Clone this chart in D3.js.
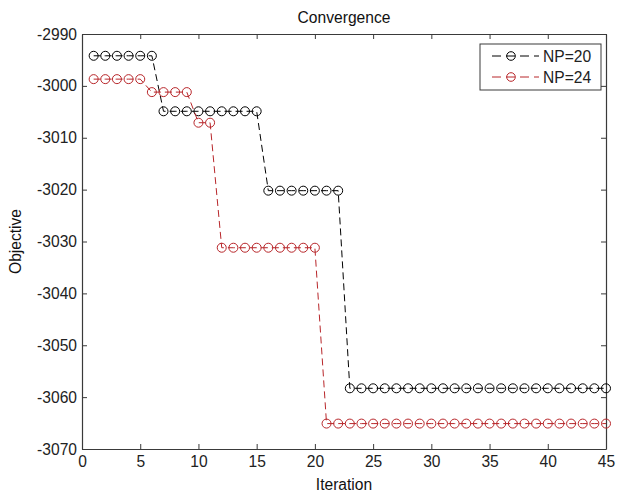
<!DOCTYPE html>
<html>
<head>
<meta charset="utf-8">
<script src="https://cdn.jsdelivr.net/npm/d3@7"></script>
<style>
  html, body { margin: 0; padding: 0; background: #fff; }
  svg { display: block; font-family: "Liberation Sans", Arial, sans-serif; }
</style>
</head>
<body>
<svg id="chart" width="618" height="498"></svg>
<script>
// Best objective value per iteration for two population sizes
const iterations = d3.range(1, 46);
const np20 = [
  -2994.2, -2994.2, -2994.2, -2994.2, -2994.2, -2994.2,
  -3004.9, -3004.9, -3004.9, -3004.9, -3004.9, -3004.9, -3004.9, -3004.9, -3004.9,
  -3020.2, -3020.2, -3020.2, -3020.2, -3020.2, -3020.2, -3020.2,
  -3058.3, -3058.3, -3058.3, -3058.3, -3058.3, -3058.3, -3058.3, -3058.3, -3058.3, -3058.3,
  -3058.3, -3058.3, -3058.3, -3058.3, -3058.3, -3058.3, -3058.3, -3058.3, -3058.3, -3058.3,
  -3058.3, -3058.3, -3058.3
];
const np24 = [
  -2998.7, -2998.7, -2998.7, -2998.7, -2998.7,
  -3001.2, -3001.2, -3001.2, -3001.2,
  -3007.1, -3007.1,
  -3031.2, -3031.2, -3031.2, -3031.2, -3031.2, -3031.2, -3031.2, -3031.2, -3031.2,
  -3065.1, -3065.1, -3065.1, -3065.1, -3065.1, -3065.1, -3065.1, -3065.1, -3065.1, -3065.1,
  -3065.1, -3065.1, -3065.1, -3065.1, -3065.1, -3065.1, -3065.1, -3065.1, -3065.1, -3065.1,
  -3065.1, -3065.1, -3065.1, -3065.1, -3065.1
];
const seriesNames = ["NP=20", "NP=24"];
const seriesColors = ["#000000", "#b8262a"];
const xTicks = [0, 5, 10, 15, 20, 25, 30, 35, 40, 45];
const yTicks = [-3070, -3060, -3050, -3040, -3030, -3020, -3010, -3000, -2990];

const svg = d3.select("#chart");
const plot = { left: 82, right: 606, top: 34, bottom: 449 };
const axisColor = "#3a3a3a";
const fontSize = "15.6px";
const plain = d => String(d); // "-2990" style: ASCII hyphen, no grouping

const x = d3.scaleLinear().domain([0, 45]).range([plot.left, plot.right]);
const y = d3.scaleLinear().domain([-3070, -2990]).range([plot.bottom, plot.top]);

// Inward ticks on all four sides
function styleAxis(g) {
  g.selectAll("path").attr("stroke", axisColor).attr("stroke-width", 1.2);
  g.selectAll("line").attr("stroke", axisColor).attr("stroke-width", 1);
  g.selectAll("text").attr("fill", "#222").style("font-size", fontSize);
}
svg.append("g").attr("transform", `translate(0,${plot.bottom})`)
  .call(d3.axisBottom(x).tickValues(xTicks).tickFormat(plain).tickSizeInner(-5).tickSizeOuter(0).tickPadding(7))
  .call(styleAxis);
svg.append("g").attr("transform", `translate(0,${plot.top})`)
  .call(d3.axisTop(x).tickValues(xTicks).tickSizeInner(-5).tickSizeOuter(0).tickFormat(""))
  .call(styleAxis);
svg.append("g").attr("transform", `translate(${plot.left},0)`)
  .call(d3.axisLeft(y).tickValues(yTicks).tickFormat(plain).tickSizeInner(-5).tickSizeOuter(0).tickPadding(5))
  .call(styleAxis);
svg.append("g").attr("transform", `translate(${plot.right},0)`)
  .call(d3.axisRight(y).tickValues(yTicks).tickSizeInner(-5).tickSizeOuter(0).tickFormat(""))
  .call(styleAxis);
svg.selectAll(".domain").attr("fill", "none");

const line = d3.line().x((d, i) => x(iterations[i])).y(d => y(d));
const seriesData = [np20, np24];

seriesData.forEach((vals, s) => {
  const g = svg.append("g");
  g.append("path").datum(vals)
    .attr("d", line)
    .attr("fill", "none")
    .attr("stroke", seriesColors[s])
    .attr("stroke-width", 1)
    .attr("stroke-dasharray", "7,4");
  g.selectAll("circle").data(vals).join("circle")
    .attr("cx", (d, i) => x(iterations[i]))
    .attr("cy", d => y(d))
    .attr("r", 4.5)
    .attr("fill", "none")
    .attr("stroke", seriesColors[s])
    .attr("stroke-width", 1);
});

// Title and axis labels
svg.append("text").attr("x", (plot.left + plot.right) / 2).attr("y", 23)
  .attr("text-anchor", "middle").style("font-size", fontSize).attr("fill", "#111")
  .text("Convergence");
svg.append("text").attr("x", (plot.left + plot.right) / 2).attr("y", 490)
  .attr("text-anchor", "middle").style("font-size", fontSize).attr("fill", "#111")
  .text("Iteration");
svg.append("text")
  .attr("transform", `translate(21,${(plot.top + plot.bottom) / 2}) rotate(-90)`)
  .attr("text-anchor", "middle").style("font-size", fontSize).attr("fill", "#111")
  .text("Objective");

// Legend
const legend = svg.append("g");
legend.append("rect").attr("x", 480).attr("y", 44).attr("width", 121).attr("height", 46)
  .attr("fill", "#fff").attr("stroke", axisColor).attr("stroke-width", 1);
seriesNames.forEach((name, s) => {
  const cy = 56 + s * 21;
  legend.append("line").attr("x1", 492).attr("x2", 539).attr("y1", cy).attr("y2", cy)
    .attr("stroke", seriesColors[s]).attr("stroke-width", 1).attr("stroke-dasharray", "9,5");
  legend.append("circle").attr("cx", 511).attr("cy", cy).attr("r", 4.3)
    .attr("fill", "none").attr("stroke", seriesColors[s]).attr("stroke-width", 1);
  legend.append("text").attr("x", 543).attr("y", cy + 5.5)
    .style("font-size", fontSize).attr("fill", "#222").text(name);
});
</script>
</body>
</html>
